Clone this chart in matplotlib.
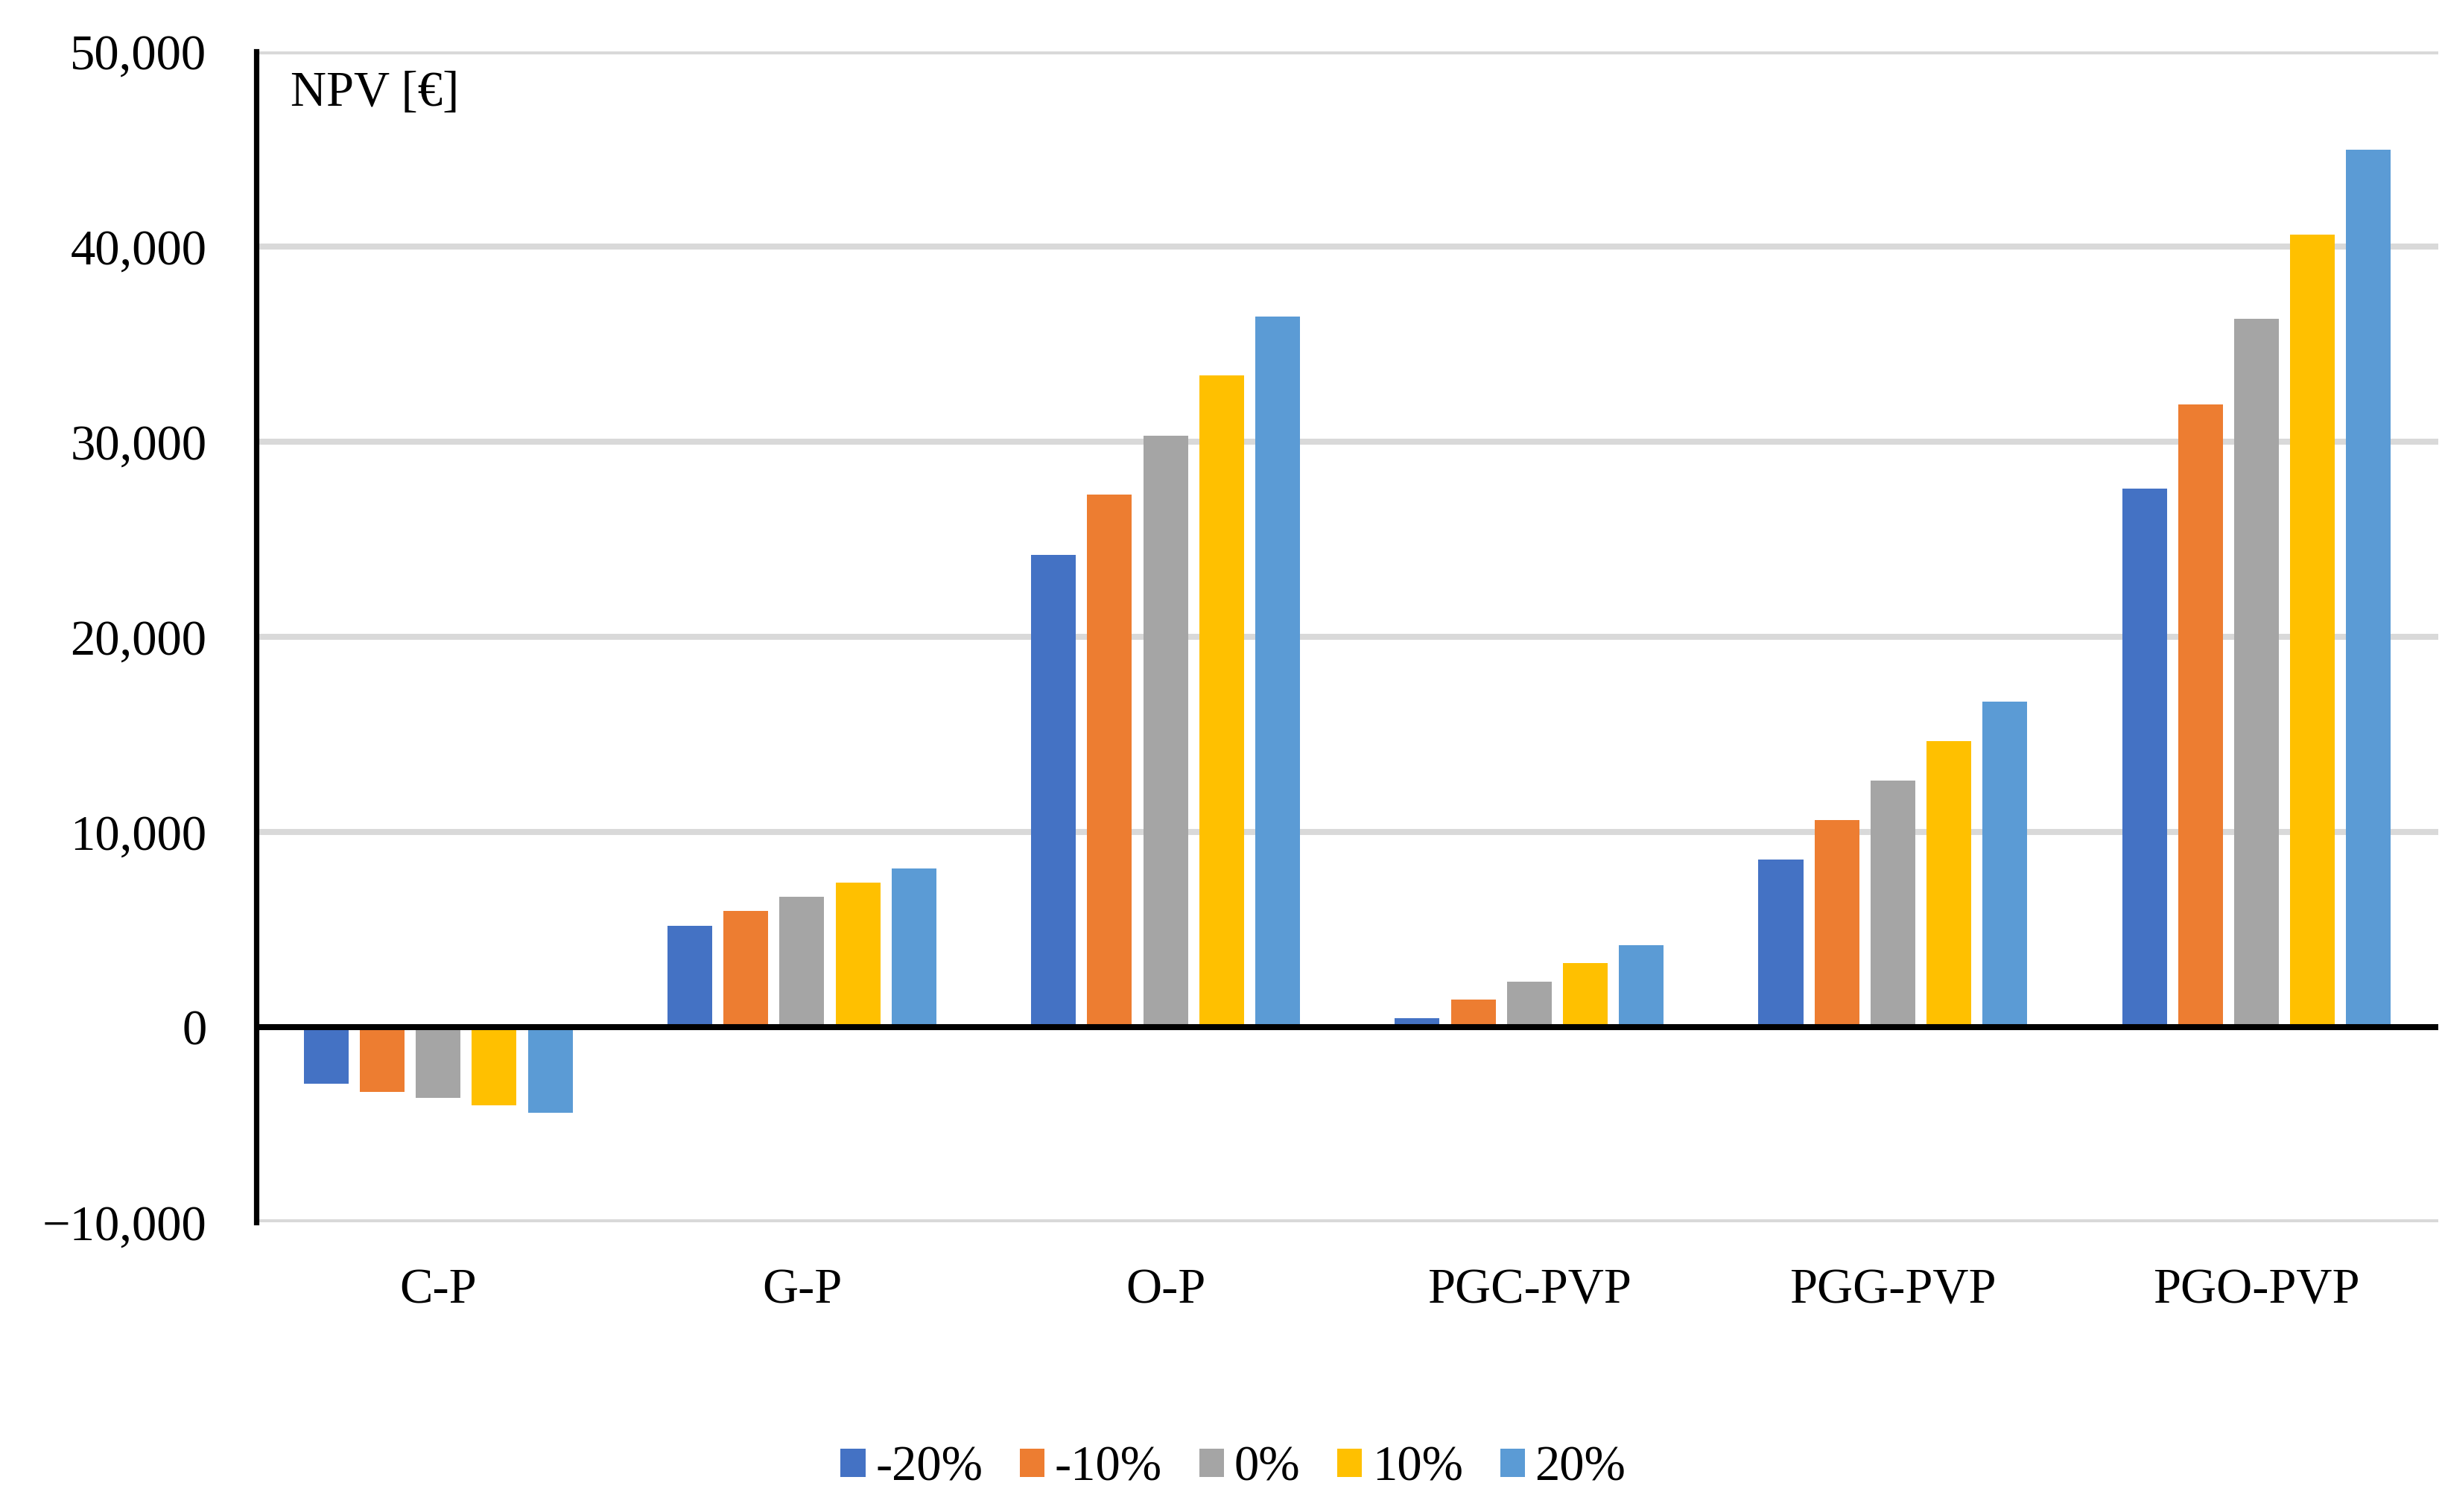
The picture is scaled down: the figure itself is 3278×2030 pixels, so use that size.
import matplotlib
matplotlib.use("Agg")
import matplotlib.pyplot as plt
import numpy as np
from matplotlib.ticker import FuncFormatter

categories = ["C-P", "G-P", "O-P", "PGC-PVP", "PGG-PVP", "PGO-PVP"]
series_labels = ["-20%", "-10%", "0%", "10%", "20%"]

npv_m20 = [-2900, 5200, 24200, 460, 8580, 27600]
npv_m10 = [-3300, 5940, 27300, 1420, 10610, 31900]
npv_0 = [-3640, 6670, 30300, 2340, 12640, 36300]
npv_p10 = [-4020, 7390, 33400, 3300, 14640, 40600]
npv_p20 = [-4370, 8120, 36400, 4210, 16670, 44950]

colors = ["#4472C4", "#ED7D31", "#A5A5A5", "#FFC000", "#5B9BD5"]

plt.rcParams["font.family"] = ["Liberation Serif", "DejaVu Serif"]

fig = plt.figure(figsize=(16.39, 10.15), dpi=200)
ax = fig.add_axes([0.105, 0.1916, 0.8935, 0.7744])

x = np.arange(len(categories))
step = 0.154
width = 0.123
all_series = [npv_m20, npv_m10, npv_0, npv_p10, npv_p20]
for i, (vals, lab) in enumerate(zip(all_series, series_labels)):
    ax.bar(x + (i - 2) * step, vals, width=width, color=colors[i],
           label=lab, zorder=2)

ax.axhline(0, color="black", linewidth=2.9, zorder=3)

ax.set_xlim(-0.5, len(categories) - 0.5)
ax.set_ylim(-10000, 50000)
ax.set_yticks(np.arange(-10000, 50001, 10000))
ax.yaxis.set_major_formatter(
    FuncFormatter(lambda v, p: f"{v:,.0f}".replace("-", "\u2212")))
ax.set_xticks(x)
ax.set_xticklabels(categories)

ax.grid(axis="y", color="#d9d9d9", linewidth=2.9, zorder=0)
ax.set_axisbelow(True)
for s in ["top", "right", "bottom"]:
    ax.spines[s].set_visible(False)
ax.spines["left"].set_linewidth(2.6)
ax.spines["left"].set_zorder(4)

ax.tick_params(axis="y", length=0, pad=24, labelsize=24)
ax.tick_params(axis="x", length=0, pad=22, labelsize=24)

ax.text(0.0157, 0.964, "NPV [\u20ac]", transform=ax.transAxes,
        fontsize=24, va="center", ha="left")

fig.legend(loc="center", bbox_to_anchor=(0.505, 0.029), ncol=5,
           frameon=False, fontsize=24, handlelength=0.5, handleheight=0.5,
           handletextpad=0.2, columnspacing=0.75)

fig.savefig("out.png", dpi=200)
